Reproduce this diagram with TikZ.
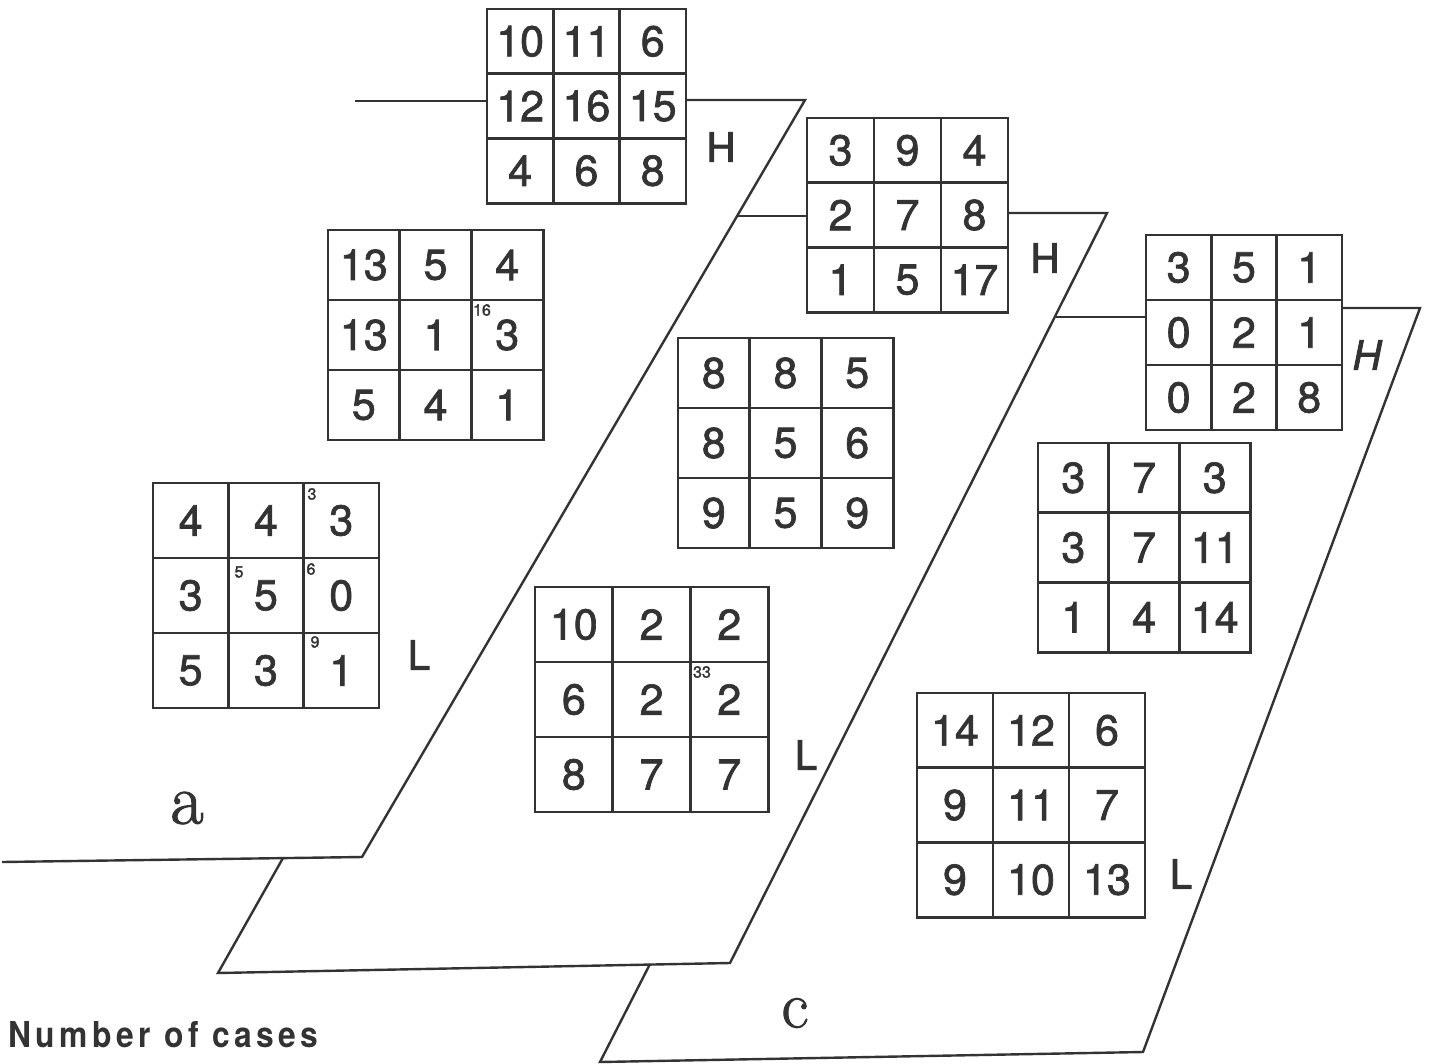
\documentclass[tikz,border=0pt]{standalone}
\usepackage{fontspec}
\usepackage{graphicx}
\setsansfont{TeX Gyre Heros}
\newfontfamily\digitfont[FakeBold=1.6]{TeX Gyre Heros}
\newfontfamily\handfont[FakeBold=2.2]{TeX Gyre Heros}
\newfontfamily\letterfont[FakeBold=1.5]{Latin Modern Roman}
\newfontfamily\capsfont[LetterSpace=14]{TeX Gyre Heros}
\usetikzlibrary{calc}
\definecolor{ink}{gray}{0.2}
\tikzset{
  gridbox/.style={draw=ink, line width=2.8pt, inner sep=0pt, outer sep=0pt, rectangle},
  gridline/.style={draw=ink, line width=2.6pt},
  plane/.style={draw=ink, line width=2.4pt, line join=miter},
  num/.style={font=\fontsize{43}{43}\selectfont\digitfont, text=ink, inner sep=0pt},
  tinynum/.style={font=\fontsize{16}{16}\selectfont\handfont, text=ink, inner sep=0pt},
  hl/.style={font=\fontsize{40}{40}\selectfont\handfont, text=ink, inner sep=0pt},
  letter/.style={font=\fontsize{72}{72}\selectfont\letterfont, text=ink, inner sep=0pt},
}
% #1 name, #2 left x, #3 top y, #4 cell width, #5 cell height, #6 nine values
\newcommand\mkgrid[6]{%
  \node[gridbox, anchor=north west, minimum width={3*#4}, minimum height={3*#5}] (#1) at (#2,#3) {};
  \draw[gridline] ($(#1.north west)+(#4,0)$) -- ($(#1.south west)+(#4,0)$);
  \draw[gridline] ($(#1.north west)+(2*#4,0)$) -- ($(#1.south west)+(2*#4,0)$);
  \draw[gridline] ($(#1.north west)+(0,#5)$) -- ($(#1.north east)+(0,#5)$);
  \draw[gridline] ($(#1.north west)+(0,2*#5)$) -- ($(#1.north east)+(0,2*#5)$);
  \foreach \v [count=\i from 0] in {#6} {
    \pgfmathtruncatemacro\gr{int(\i/3)}
    \pgfmathtruncatemacro\gc{mod(\i,3)}
    \node[num] (#1-\i) at ($(#1.north west)+({(\gc+0.5)*#4},{(\gr+0.5)*#5})$) {\v};
  }
}
\begin{document}
\begin{tikzpicture}[x=1pt, y=-1pt]
\useasboundingbox (0,0) rectangle (1429,1063);
\fill[white] (0,0) rectangle (1429,1063);

% ---------- grids ----------
\mkgrid{g1}{487}{9}{66.3}{64.7}{10,11,6,12,16,15,4,6,8}
\mkgrid{ga2}{328}{230}{71.7}{70}{13,5,4,13,1,3,5,4,1}
\mkgrid{ga3}{153}{483}{75.3}{75}{4,4,3,3,5,0,5,3,1}
\mkgrid{gb1}{807}{118}{67}{64.7}{3,9,4,2,7,8,1,5,17}
\mkgrid{gb2}{678}{338}{71.7}{70}{8,8,5,8,5,6,9,5,9}
\mkgrid{gb3}{535}{587}{77.7}{75}{10,2,2,6,2,2,8,7,7}
\mkgrid{gc1}{1146}{235}{65.3}{65}{3,5,1,0,2,1,0,2,8}
\mkgrid{gc2}{1038}{443}{70.7}{69.7}{3,7,3,3,7,11,1,4,14}
\mkgrid{gc3}{917}{693}{76}{74.7}{14,12,6,9,11,7,9,10,13}

% small pencil marks
\node[tinynum] (m1) at (312,494) {3};
\node[tinynum] (m2) at (239,572) {5};
\node[tinynum] (m3) at (311,569) {6};
\node[tinynum] (m4) at (315,642) {9};
\node[tinynum] (m5) at (482,310) {16};
\node[tinynum] (m6) at (702,672) {33};

% ---------- plane a ----------
\coordinate (pa-tl) at (355,101);
\coordinate (pa-tr) at (805,100);
\coordinate (pa-br) at (362,857);
\coordinate (pa-bl) at (2,862);
\draw[plane] (pa-tl) -- (pa-tl -| g1.west);
\draw[plane] (g1.east |- pa-tr) -- (pa-tr) -- (pa-br) -- (pa-bl);

% ---------- plane b ----------
\coordinate (pb-tl) at (737,216);
\coordinate (pb-tr) at (1107,213);
\coordinate (pb-br) at (730,963);
\coordinate (pb-bl) at (218,973);
\coordinate (pb-ml) at (283,858);
\draw[plane] (pb-tl) -- (pb-tl -| gb1.west);
\draw[plane] (gb1.east |- pb-tr) -- (pb-tr) -- (pb-br) -- (pb-bl) -- (pb-ml);

% ---------- plane c ----------
\coordinate (pc-tl) at (1056,317);
\coordinate (pc-tr) at (1420,308);
\coordinate (pc-br) at (1143,1052);
\coordinate (pc-bl) at (600,1062);
\coordinate (pc-ml) at (650,964);
\draw[plane] (pc-tl) -- (pc-tl -| gc1.west);
\draw[plane] (gc1.east |- pc-tr) -- (pc-tr) -- (pc-br) -- (pc-bl) -- (pc-ml);

% ---------- labels ----------
\node[hl] (h1) at (721,147) {H};
\node[hl] (h2) at (1045,258) {H};
\node[hl, xslant=0.2] (h3) at (1368,355) {H};
\node[hl] (l1) at (419,655) {L};
\node[hl] (l2) at (806,755) {L};
\node[hl] (l3) at (1181,874) {L};
\node[letter] (la) at (187,808) {a};
\node[letter, font=\fontsize{66}{66}\selectfont\letterfont] (lc) at (795,1013) {c};
\node[anchor=south west, inner sep=0pt, text=ink] (cap) at (8,1048)
  {\resizebox{310pt}{26pt}{\capsfont\bfseries Number of cases}};
\end{tikzpicture}
\end{document}
